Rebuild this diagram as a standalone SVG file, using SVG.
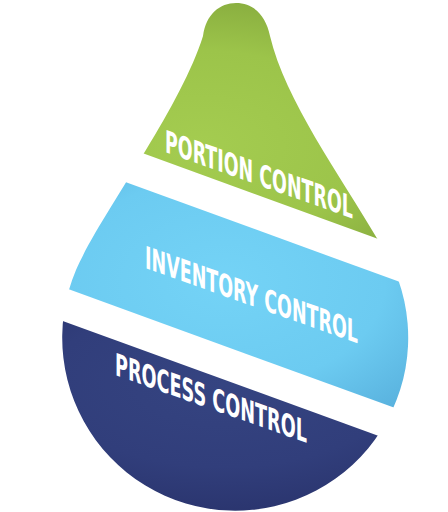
<svg xmlns="http://www.w3.org/2000/svg" width="448" height="512" viewBox="0 0 448 512">
  <defs>
    <clipPath id="drop">
      <path d="M236 3 C254 3 266 16 270 36 C285 100 340 175 378 240 A173 173 0 1 1 76 270 C100 215 180 110 203 36 C206 14 220 3 236 3 Z"/>
    </clipPath>
    <radialGradient id="gGreen" cx="0.45" cy="0.55" r="0.6">
      <stop offset="0" stop-color="#a4cc50"/>
      <stop offset="0.6" stop-color="#9cc44a"/>
      <stop offset="1" stop-color="#85a93d"/>
    </radialGradient>
    <radialGradient id="gBlue" cx="0.5" cy="0.5" r="0.6">
      <stop offset="0" stop-color="#74d3f6"/>
      <stop offset="0.6" stop-color="#6ccbf1"/>
      <stop offset="1" stop-color="#57afdc"/>
    </radialGradient>
    <radialGradient id="gNavy" cx="0.5" cy="0.4" r="0.65">
      <stop offset="0" stop-color="#354481"/>
      <stop offset="0.6" stop-color="#313e7b"/>
      <stop offset="1" stop-color="#29336c"/>
    </radialGradient>
  </defs>
  <style>
    .lbl { fill: #ffffff; font-family: "DejaVu Sans Condensed", "DejaVu Sans", sans-serif; font-weight: bold; font-size: 31px; }
  </style>
  <g clip-path="url(#drop)">
    <g id="portion">
      <polygon points="0,0 448,0 448,264.3 0,101.2" fill="url(#gGreen)"/>
    </g>
    <g id="inventory">
      <polygon points="0,136.4 448,299.5 448,427.3 0,264.2" fill="url(#gBlue)"/>
    </g>
    <g id="process">
      <polygon points="0,298.1 448,461.2 448,512 0,512" fill="url(#gNavy)"/>
    </g>
  </g>
  <g transform="translate(165,152) skewY(19.5)">
    <text class="lbl" x="0" y="0" textLength="188" lengthAdjust="spacingAndGlyphs">PORTION CONTROL</text>
  </g>
  <g transform="translate(145,268) skewY(19.5)">
    <text class="lbl" x="0" y="0" textLength="213" lengthAdjust="spacingAndGlyphs">INVENTORY CONTROL</text>
  </g>
  <g transform="translate(115,375) skewY(19.5)">
    <text class="lbl" x="0" y="0" textLength="192" lengthAdjust="spacingAndGlyphs">PROCESS CONTROL</text>
  </g>
</svg>
